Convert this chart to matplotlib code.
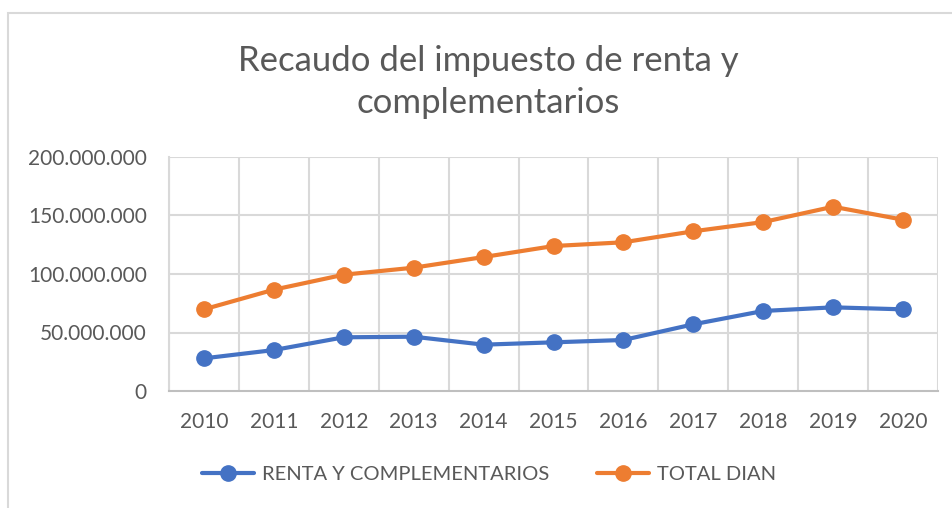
import matplotlib
matplotlib.use("Agg")
import matplotlib.pyplot as plt
from matplotlib.patches import Rectangle
from matplotlib.ticker import FuncFormatter

years = ["2010", "2011", "2012", "2013", "2014", "2015", "2016", "2017", "2018", "2019", "2020"]
renta = [27.9, 35.0, 45.9, 46.4, 39.6, 41.6, 43.6, 57.0, 68.4, 71.5, 69.8]
total_dian = [69.8, 86.6, 99.4, 105.4, 114.5, 123.9, 127.1, 136.5, 144.4, 157.5, 146.4]
yticks = [0, 50e6, 100e6, 150e6, 200e6]

plt.rcParams['font.family'] = ['Lato', 'DejaVu Sans']
txt = '#595959'
grid_c = '#d9d9d9'

fig = plt.figure(figsize=(9.53, 5.08), dpi=100)
ax = fig.add_axes([169/953, 1-391/508, (938-169)/953, (391-157)/508])

x = list(range(len(years)))
ax.plot(x, [v*1e6 for v in renta], color='#4472c4', lw=3, marker='o', ms=11,
        label='RENTA Y COMPLEMENTARIOS', solid_capstyle='round')
ax.plot(x, [v*1e6 for v in total_dian], color='#ed7d31', lw=3, marker='o', ms=11,
        label='TOTAL DIAN', solid_capstyle='round')

ax.set_xlim(-0.5, len(years)-0.5)
ax.set_ylim(0, 200e6)
ax.set_yticks(yticks)
ax.yaxis.set_major_formatter(FuncFormatter(lambda v, p: f"{int(v):,}".replace(",", ".")))
ax.set_xticks(x)
ax.set_xticklabels(years)

ax.grid(False)
for yv in yticks[1:]:
    ax.axhline(yv, color=grid_c, lw=1.5, zorder=0)
for xv in range(len(years)+1):
    ax.axvline(xv - 0.5, color=grid_c, lw=1.5, zorder=0)

for s in ['top', 'right']:
    ax.spines[s].set_visible(False)
ax.spines['left'].set_color(grid_c)
ax.spines['left'].set_linewidth(1.5)
ax.spines['bottom'].set_color('#bfbfbf')
ax.spines['bottom'].set_linewidth(1.5)
ax.tick_params(axis='both', which='both', length=0, colors=txt, labelsize=15)
ax.tick_params(axis='y', pad=16)
ax.tick_params(axis='x', pad=15)

fig.text(0.512, 1-82/508, "Recaudo del impuesto de renta y\ncomplementarios", ha='center', va='center',
         fontsize=25, color=txt, linespacing=1.4)

leg = fig.legend(loc='center', bbox_to_anchor=(0.513, 1-474/508), ncol=2, frameon=False,
                 fontsize=14.5, handlelength=2.6, columnspacing=2.4, handletextpad=0.35)
for t in leg.get_texts():
    t.set_color(txt)

fig.add_artist(Rectangle((8/953, -0.1), 1.2, 1 - 13/508 + 0.1, transform=fig.transFigure,
                         fill=False, edgecolor='#d9d9d9', lw=1.5))

fig.savefig("out.png", dpi=100)
